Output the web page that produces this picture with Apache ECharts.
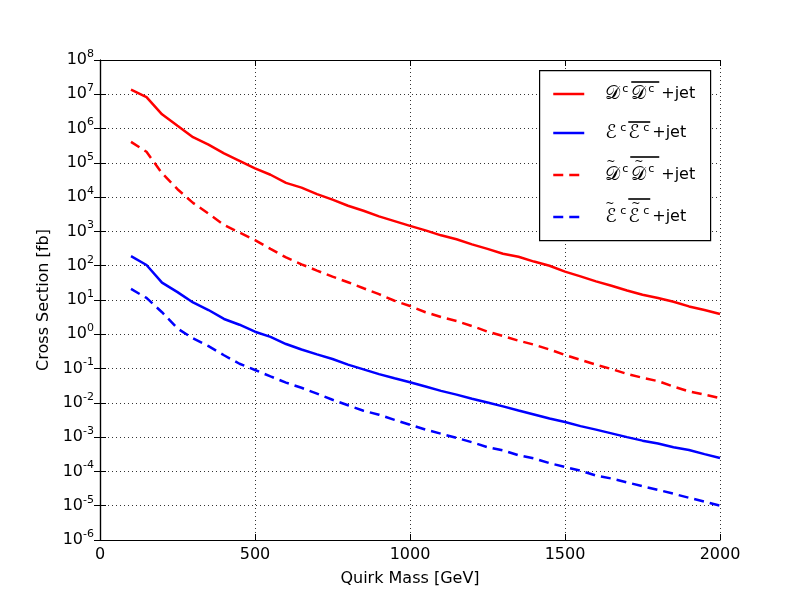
<!DOCTYPE html>
<html>
<head>
<meta charset="utf-8">
<script src="https://cdn.jsdelivr.net/npm/echarts@6/dist/echarts.min.js"></script>
<style>
html,body{margin:0;padding:0;background:#fff;}
#chart{width:800px;height:600px;}
</style>
</head>
<body>
<div id="chart"></div>
<script>
// Quirk masses [GeV]
const masses = [100,150,200,250,300,350,400,450,500,550,600,650,700,750,800,850,900,950,1000,
  1050,1100,1150,1200,1250,1300,1350,1400,1450,1500,1550,1600,1650,1700,1750,1800,1850,1900,1950,2000];

// Cross sections [fb]
const sigmaD = [1.37e7,8.3e6,2.6e6,1.2e6,5.6e5,3.4e5,1.9e5,1.15e5,6.9e4,4.5e4,2.6e4,1.9e4,1.23e4,8.5e3,
  5.6e3,4.0e3,2.75e3,2.0e3,1.45e3,1.07e3,770,590,420,310,224,182,132,100,67,49,35,26,19,14.3,11.5,8.9,6.5,5.1,3.9];
const sigmaE = [190,105,32,17,8.5,5.1,2.8,1.9,1.19,0.84,0.52,0.36,0.26,0.19,0.13,0.095,0.069,0.052,0.040,
  0.030,0.0224,0.0174,0.0132,0.0102,0.0079,0.0060,0.0046,0.0035,0.00275,0.0021,0.00166,0.00129,0.00100,
  0.00079,0.00065,0.00051,0.00042,0.00032,0.000245];
const sigmaDt = [4.1e5,2.1e5,5.0e4,1.7e4,6.8e3,3.3e3,1.55e3,930,560,310,174,110,72,48,33,22,14.8,9.5,6.7,
  4.4,3.2,2.45,1.74,1.2,0.89,0.65,0.50,0.36,0.25,0.18,0.13,0.097,0.070,0.054,0.043,0.030,0.0216,0.0174,0.0138];
const sigmaEt = [21,11.5,4.4,1.48,0.76,0.45,0.245,0.138,0.091,0.059,0.039,0.0275,0.0186,0.0123,0.0085,
  0.0059,0.0045,0.0032,0.0023,0.00166,0.00126,0.00095,0.00071,0.00051,0.00041,0.000295,0.00024,0.000174,
  0.000135,0.000105,0.000076,0.000062,0.000048,0.000037,0.000029,0.0000224,0.0000170,0.0000132,0.0000100];

const xTicks = [0,500,1000,1500,2000];
const seriesNames = ['D','E','Dt','Et'];

const pairs = ys => masses.map((m,i)=>[m, ys[i]]);

const FONT = 'DejaVu Sans';
const chart = echarts.init(document.getElementById('chart'), null, {renderer:'canvas'});

const TL = 20; // text line height
const sup = (w, raise) => ({fontFamily: FONT, fontSize: 11, width: w, lineHeight: TL, color:'#000', padding:[0,0,raise*2,0]});
const blank = (w, lh) => ({width: w, height: 1, lineHeight: lh});
const bar = (w, lh) => ({width: w, height: 1.6, lineHeight: lh, backgroundColor: '#000'});
const tilde = (w, lh) => ({fontFamily: FONT, fontSize: 11, width: w, lineHeight: lh, color:'#000'});
const legendRich = {
  lead: blank(16, TL),
  mD: {fontFamily: FONT, fontSize: 19, width: 17, lineHeight: TL, color:'#000'},
  mE: {fontFamily: FONT, fontSize: 19, width: 15, lineHeight: TL, color:'#000'},
  cD1: sup(9, 4.5), cD2: sup(13, 4.5),
  cE1: sup(8, 4.5), cE2: sup(9, 4.5),
  cD1t: sup(9, 6), cD2t: sup(13, 6),
  cE1t: sup(8, 6), cE2t: sup(9, 6),
  t: {fontFamily: FONT, fontSize: 16, lineHeight: TL, color:'#000'},
  // overline rows
  spD: blank(42, 4), barD: bar(28, 4),
  spE: blank(39, 2), barE: bar(22, 2),
  spDt: blank(41, 6), barDt: bar(29, 6),
  spEt: blank(39, 6), barEt: bar(22, 6),
  // tilde rows
  tleadD: blank(17, 5), tD: tilde(28, 5),
  tleadE: blank(16, 5), tE: tilde(26, 5),
  bal4: blank(1, 4), bal2: blank(1, 2), bal11: blank(1, 11)
};
const legendText = {
  D:  '{spD|}{barD|}\n{lead|}{mD|𝒟}{cD1|c}{mD|𝒟}{cD2|c}{t|+jet}\n{bal4|}',
  E:  '{spE|}{barE|}\n{lead|}{mE|ℰ}{cE1|c}{mE|ℰ}{cE2|c}{t|+jet}\n{bal2|}',
  Dt: '{spDt|}{barDt|}\n{tleadD|}{tD|~}{tD|~}\n{lead|}{mD|𝒟}{cD1t|c}{mD|𝒟}{cD2t|c}{t|+jet}\n{bal11|}',
  Et: '{spEt|}{barEt|}\n{tleadE|}{tE|~}{tE|~}\n{lead|}{mE|ℰ}{cE1t|c}{mE|ℰ}{cE2t|c}{t|+jet}\n{bal11|}'
};
const rowY = {D: 93, E: 131, Dt: 175, Et: 217};
const blockH = {D: 4 + TL + 4, E: 2 + TL + 2, Dt: 6 + 5 + TL + 11, Et: 6 + 5 + TL + 11};

const colors = {D:'#ff0000', E:'#0000ff', Dt:'#ff0000', Et:'#0000ff'};
const dashes = {D:'solid', E:'solid', Dt:[10,6], Et:[10,6]};
const dataMap = {D: sigmaD, E: sigmaE, Dt: sigmaDt, Et: sigmaEt};

const legends = seriesNames.map(n => ({
  data: [n],
  left: 552,
  top: rowY[n] - blockH[n] / 2 - 5,
  padding: 0,
  itemWidth: 31,
  itemHeight: 14,
  selectedMode: false,
  z: 60,
  itemStyle: {color: 'rgba(0,0,0,0)', borderWidth: 0, opacity: 0},
  lineStyle: {color: colors[n], width: 2.5, type: dashes[n]},
  formatter: name => legendText[name],
  textStyle: {rich: legendRich, fontFamily: FONT, fontSize: 16, color:'#000'}
}));

const axisLineStyle = {lineStyle:{color:'#000', width:1.2}};
const gridLine = {show:true, lineStyle:{color:'#000', width:0.8, type:[1,3]}};

chart.setOption({
  animation: false,
  backgroundColor: '#fff',
  textStyle: {fontFamily: FONT},
  grid: {left: 100, right: 80, top: 60, bottom: 60, containLabel: false},
  graphic: [{
    type: 'rect', left: 539, top: 70, z: 50,
    shape: {width: 171, height: 170},
    style: {fill: '#fff', stroke: '#000', lineWidth: 1.2}
  }],
  legend: legends,
  xAxis: [{
    type: 'value', min: xTicks[0], max: xTicks[xTicks.length-1], interval: 500,
    name: 'Quirk Mass [GeV]', nameLocation: 'middle', nameGap: 31,
    nameTextStyle: {fontFamily: FONT, fontSize: 16, color:'#000'},
    axisLine: axisLineStyle,
    axisTick: {inside: true, length: 6, lineStyle:{color:'#000'}},
    axisLabel: {fontFamily: FONT, fontSize: 16, color:'#000', margin: 7, formatter: v => String(v)},
    splitLine: gridLine
  },{
    type: 'value', min: xTicks[0], max: xTicks[xTicks.length-1], interval: 500, position: 'top',
    axisLine: axisLineStyle,
    axisTick: {inside: true, length: 6, lineStyle:{color:'#000'}},
    axisLabel: {show: false}, splitLine: {show: false}
  }],
  yAxis: [{
    type: 'log', logBase: 10, min: 1e-6, max: 1e8, interval: 1,
    name: 'Cross Section [fb]', nameLocation: 'middle', nameGap: 47,
    nameTextStyle: {fontFamily: FONT, fontSize: 16, color:'#000'},
    axisLine: axisLineStyle,
    axisTick: {inside: true, length: 6, lineStyle:{color:'#000'}},
    minorTick: {show: false},
    axisLabel: {
      margin: 6,
      formatter: v => {
        const e = Math.round(Math.log10(v));
        return '{b|10}{s|' + e + '}';
      },
      rich: {
        b: {fontFamily: FONT, fontSize: 16, color:'#000'},
        s: {fontFamily: FONT, fontSize: 11, color:'#000', padding:[0,0,12,0]}
      }
    },
    splitLine: gridLine
  },{
    type: 'log', logBase: 10, min: 1e-6, max: 1e8, interval: 1, position: 'right',
    axisLine: axisLineStyle,
    axisTick: {inside: true, length: 6, lineStyle:{color:'#000'}},
    axisLabel: {show: false}, splitLine: {show: false}
  }],
  series: seriesNames.map(n => ({
    name: n, type: 'line', xAxisIndex: 0, yAxisIndex: 0,
    data: pairs(dataMap[n]),
    symbol: 'none', showSymbol: false,
    color: colors[n],
    lineStyle: {color: colors[n], width: 2.5, type: dashes[n]},
    z: 5
  }))
});
</script>
</body>
</html>
